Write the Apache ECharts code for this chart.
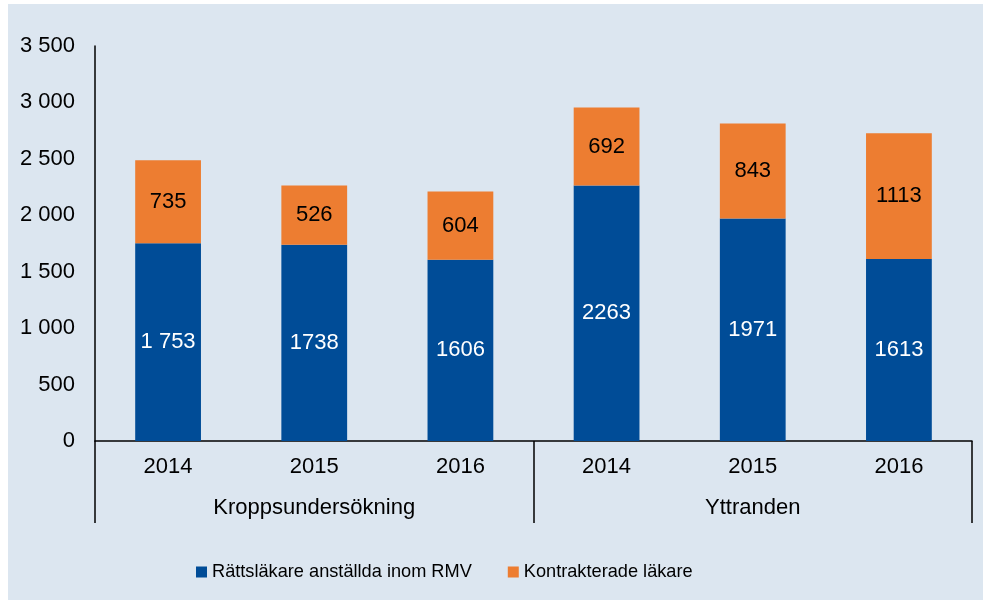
<!DOCTYPE html>
<html>
<head>
<meta charset="utf-8">
<script src="https://cdn.jsdelivr.net/npm/echarts@6/dist/echarts.min.js"></script>
<style>
body{ margin:0; background:#ffffff; }
#chart{ position:absolute; left:8px; top:4px; width:975px; height:596px; background:#dce6f0; }
</style>
</head>
<body>
<div id="chart"></div>
<script>
// data
var years = ['2014','2015','2016','2014','2015','2016'];
var groups = ['Kroppsundersökning','Yttranden'];
var seriesNames = ['Rättsläkare anställda inom RMV','Kontrakterade läkare'];
var anstallda = [1753,1738,1606,2263,1971,1613];
var anstalldaLabels = ['1 753','1738','1606','2263','1971','1613'];
var kontrakt = [735,526,604,692,843,1113];
var kontraktLabels = ['735','526','604','692','843','1113'];

var font = 'Liberation Sans, Arial, sans-serif';

let myChart = echarts.init(document.getElementById('chart'));

let option = {
    backgroundColor: '#dce6f0',
    animation: false,
    textStyle: { fontFamily: font },
    legend: {
        data: seriesNames,
        top: 559,
        left: 188,
        padding: 0,
        itemWidth: 11,
        itemHeight: 11,
        itemGap: 36,
        icon: 'rect',
        textStyle: { color: '#000000', fontSize: 18.2, fontFamily: font }
    },
    grid: {
        left: 87,
        right: 11,
        top: 42,
        bottom: 159,
        containLabel: false
    },
    xAxis: [
        {
            type: 'category',
            data: years,
            position: 'bottom',
            axisLine: { show: true, lineStyle: { color: '#000000', width: 1.5 } },
            axisTick: { show: false },
            axisLabel: { color: '#000000', fontSize: 22, margin: 15, fontFamily: font }
        },
        {
            type: 'category',
            data: groups,
            position: 'bottom',
            axisLine: { show: false },
            axisTick: { show: true, length: 82, lineStyle: { color: '#000000', width: 1.5 } },
            axisLabel: { color: '#000000', fontSize: 22, margin: 56, fontFamily: font }
        }
    ],
    yAxis: {
        type: 'value',
        min: 0,
        max: 3500,
        interval: 500,
        axisLine: { show: true, lineStyle: { color: '#000000', width: 1.5 } },
        axisTick: { show: false },
        splitLine: { show: false },
        axisLabel: {
            color: '#000000',
            fontSize: 22,
            margin: 20,
            fontFamily: font,
            formatter: function(v){
                return String(v).replace(/\B(?=(\d{3})+(?!\d))/g, ' ');
            }
        }
    },
    series: [
        {
            name: seriesNames[0],
            type: 'bar',
            stack: 'total',
            barWidth: '45%',
            data: anstallda,
            itemStyle: { color: '#004c97' },
            label: {
                show: true,
                position: 'inside',
                color: '#ffffff',
                fontSize: 22,
                fontFamily: font,
                formatter: function(p){ return anstalldaLabels[p.dataIndex]; }
            }
        },
        {
            name: seriesNames[1],
            type: 'bar',
            stack: 'total',
            barWidth: '45%',
            data: kontrakt,
            itemStyle: { color: '#ed7d31' },
            label: {
                show: true,
                position: 'inside',
                color: '#000000',
                fontSize: 22,
                fontFamily: font,
                formatter: function(p){ return kontraktLabels[p.dataIndex]; }
            }
        }
    ]
};

myChart.setOption(option);
</script>
</body>
</html>
